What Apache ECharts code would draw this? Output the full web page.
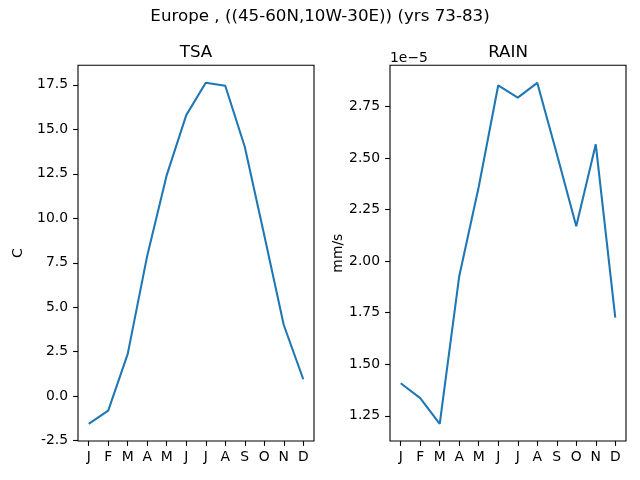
<!DOCTYPE html>
<html>
<head>
<meta charset="utf-8">
<script src="https://cdn.jsdelivr.net/npm/echarts@6/dist/echarts.min.js"></script>
<style>html,body{margin:0;padding:0;background:#fff;}#c{width:640px;height:480px;}</style>
</head>
<body>
<div id="c"></div>
<script>
const months = ['J','F','M','A','M','J','J','A','S','O','N','D'];
const tsa = [-1.56, -0.81, 2.38, 7.9, 12.43, 15.8, 17.62, 17.45, 14.02, 9.05, 4.0, 0.95];
const rain = [1.408e-5, 1.336e-5, 1.211e-5, 1.927e-5, 2.36e-5, 2.852e-5, 2.792e-5, 2.864e-5, 2.52e-5, 2.169e-5, 2.566e-5, 1.726e-5];
const tsaTicks = [-2.5, 0, 2.5, 5, 7.5, 10, 12.5, 15, 17.5];
const rainTicks = [1.25e-5, 1.5e-5, 1.75e-5, 2.0e-5, 2.25e-5, 2.5e-5, 2.75e-5];
const monthIdx = months.map((m, i) => i);

const FONT = 'DejaVu Sans';
const chart = echarts.init(document.getElementById('c'), null, {renderer: 'canvas'});

function xAxisFor(gi) {
  return {
    type: 'value', gridIndex: gi, min: -0.55, max: 11.55,
    axisLine: {show: false, onZero: false},
    splitLine: {show: false},
    axisTick: {show: true, length: 4.9, customValues: monthIdx, lineStyle: {color: '#000', width: 1.1}},
    axisLabel: {customValues: monthIdx, margin: 9, color: '#000', fontFamily: FONT, fontSize: 13.9,
      formatter: v => months[Math.round(v)]}
  };
}

const option = {
  animation: false,
  backgroundColor: '#fff',
  title: [
    {text: 'Europe , ((45-60N,10W-30E)) (yrs 73-83)', left: 'center', top: 8.5, padding: 0,
      textStyle: {fontFamily: FONT, fontSize: 16.7, fontWeight: 'normal', color: '#000'}},
    {text: 'TSA', left: 196, textAlign: 'center', top: 44, padding: 0,
      textStyle: {fontFamily: FONT, fontSize: 16.7, fontWeight: 'normal', color: '#000'}},
    {text: 'RAIN', left: 508, textAlign: 'center', top: 44, padding: 0,
      textStyle: {fontFamily: FONT, fontSize: 16.7, fontWeight: 'normal', color: '#000'}},
    {text: '1e\u22125', left: 390, top: 51, padding: 0,
      textStyle: {fontFamily: FONT, fontSize: 13.9, fontWeight: 'normal', color: '#000'}}
  ],
  grid: [
    {left: 78, top: 65.3, width: 236, height: 375.7, show: true, borderColor: '#000', borderWidth: 1.1, containLabel: false},
    {left: 390, top: 65.3, width: 236, height: 375.7, show: true, borderColor: '#000', borderWidth: 1.1, containLabel: false}
  ],
  xAxis: [xAxisFor(0), xAxisFor(1)],
  yAxis: [
    {type: 'value', gridIndex: 0, min: -2.52, max: 18.6,
      name: 'C', nameLocation: 'middle', nameGap: 53, nameRotate: 90,
      nameTextStyle: {fontFamily: FONT, fontSize: 13.9, color: '#000'},
      axisLine: {show: false, onZero: false}, splitLine: {show: false},
      axisTick: {show: true, length: 4.9, customValues: tsaTicks, lineStyle: {color: '#000', width: 1.1}},
      axisLabel: {customValues: tsaTicks, margin: 10, color: '#000', fontFamily: FONT, fontSize: 13.9,
        formatter: v => v.toFixed(1)}},
    {type: 'value', gridIndex: 1, min: 1.128e-5, max: 2.949e-5,
      name: 'mm/s', nameLocation: 'middle', nameGap: 44, nameRotate: 90,
      nameTextStyle: {fontFamily: FONT, fontSize: 13.9, color: '#000'},
      axisLine: {show: false, onZero: false}, splitLine: {show: false},
      axisTick: {show: true, length: 4.9, customValues: rainTicks, lineStyle: {color: '#000', width: 1.1}},
      axisLabel: {customValues: rainTicks, margin: 10, color: '#000', fontFamily: FONT, fontSize: 13.9,
        formatter: v => (v / 1e-5).toFixed(2)}}
  ],
  series: [
    {type: 'line', xAxisIndex: 0, yAxisIndex: 0, showSymbol: false, symbol: 'none',
      data: tsa.map((v, i) => [i, v]), lineStyle: {color: '#1f77b4', width: 2.08}},
    {type: 'line', xAxisIndex: 1, yAxisIndex: 1, showSymbol: false, symbol: 'none',
      data: rain.map((v, i) => [i, v]), lineStyle: {color: '#1f77b4', width: 2.08}}
  ]
};
chart.setOption(option);
</script>
</body>
</html>
